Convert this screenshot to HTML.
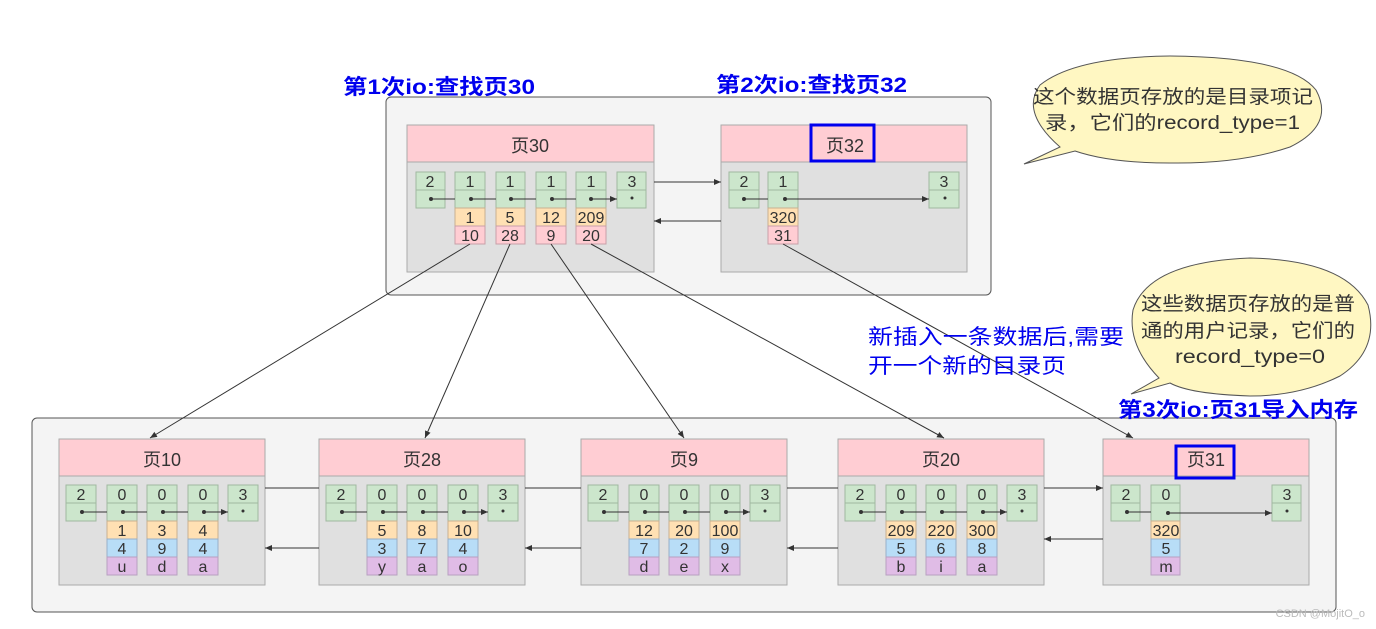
<!DOCTYPE html>
<html><head><meta charset="utf-8"><style>
html,body{margin:0;padding:0;background:#fff;}
svg{display:block;}
text{font-family:"Liberation Sans","Noto Sans CJK SC",sans-serif;}
.c{font-size:16px;fill:#333;text-anchor:middle;}
.h{font-size:18px;fill:#333;text-anchor:middle;}
.g{fill:#cce6cc;stroke:#a0b8a0;stroke-width:1;}
.o{fill:#ffe0b3;stroke:#c8b090;stroke-width:1;}
.p{fill:#ffcdd3;stroke:#c8a0a8;stroke-width:1;}
.b{fill:#b8ddf7;stroke:#98b0c8;stroke-width:1;}
.u{fill:#e0bce6;stroke:#b8a0c0;stroke-width:1;}
.bl{font-size:21px;fill:#0000ee;font-weight:bold;}
.bt{font-size:19px;fill:#333;}
.ln{stroke:#333;stroke-width:1;fill:none;}
</style></head><body>
<svg width="1376" height="629" viewBox="0 0 1376 629" xmlns="http://www.w3.org/2000/svg">
<defs><marker id="a" markerWidth="8" markerHeight="8" refX="7" refY="4" orient="auto" markerUnits="userSpaceOnUse"><path d="M0,1 L7,4 L0,7 Z" fill="#333"/></marker></defs>
<rect x="386" y="97" width="605" height="198" rx="5" fill="#f4f4f4" stroke="#555"/>
<rect x="32" y="418" width="1304" height="194" rx="5" fill="#f4f4f4" stroke="#555"/>

<!-- page 30 -->
<rect x="407" y="125" width="247" height="147" fill="#e0e0e0" stroke="#aaa"/>
<rect x="407" y="125" width="247" height="37" fill="#ffcdd3" stroke="#aaa"/>
<text class="h" x="530" y="152">页30</text>
<g>
<rect class="g" x="416" y="172" width="29" height="18"/><rect class="g" x="416" y="190" width="29" height="18"/><text class="c" x="430" y="187">2</text>
<rect class="g" x="455" y="172" width="30" height="18"/><rect class="g" x="455" y="190" width="30" height="18"/><text class="c" x="470" y="187">1</text>
<rect class="o" x="455" y="208" width="30" height="18"/><text class="c" x="470" y="223">1</text>
<rect class="p" x="455" y="226" width="30" height="18"/><text class="c" x="470" y="241">10</text>
<rect class="g" x="496" y="172" width="29" height="18"/><rect class="g" x="496" y="190" width="29" height="18"/><text class="c" x="510" y="187">1</text>
<rect class="o" x="496" y="208" width="29" height="18"/><text class="c" x="510" y="223">5</text>
<rect class="p" x="496" y="226" width="29" height="18"/><text class="c" x="510" y="241">28</text>
<rect class="g" x="536" y="172" width="30" height="18"/><rect class="g" x="536" y="190" width="30" height="18"/><text class="c" x="551" y="187">1</text>
<rect class="o" x="536" y="208" width="30" height="18"/><text class="c" x="551" y="223">12</text>
<rect class="p" x="536" y="226" width="30" height="18"/><text class="c" x="551" y="241">9</text>
<rect class="g" x="576" y="172" width="30" height="18"/><rect class="g" x="576" y="190" width="30" height="18"/><text class="c" x="591" y="187">1</text>
<rect class="o" x="576" y="208" width="30" height="18"/><text class="c" x="591" y="223">209</text>
<rect class="p" x="576" y="226" width="30" height="18"/><text class="c" x="591" y="241">20</text>
<rect class="g" x="617" y="172" width="29" height="18"/><rect class="g" x="617" y="190" width="29" height="18"/><text class="c" x="632" y="187">3</text>
<g fill="#333"><circle cx="431" cy="199" r="2"/><circle cx="471" cy="199" r="2"/><circle cx="511" cy="199" r="2"/><circle cx="552" cy="199" r="2"/><circle cx="591" cy="199" r="2"/><circle cx="632" cy="198" r="1.5"/></g>
<path class="ln" marker-end="url(#a)" d="M431,199H455M471,199H496M511,199H536M552,199H576M591,199H617"/>
</g>

<!-- page 32 -->
<rect x="721" y="125" width="246" height="147" fill="#e0e0e0" stroke="#aaa"/>
<rect x="721" y="125" width="246" height="37" fill="#ffcdd3" stroke="#aaa"/>
<text class="h" x="845" y="152">页32</text>
<rect x="811" y="125" width="63" height="36" fill="none" stroke="#0000ee" stroke-width="3"/>
<rect class="g" x="729" y="172" width="30" height="18"/><rect class="g" x="729" y="190" width="30" height="18"/><text class="c" x="744" y="187">2</text>
<rect class="g" x="768" y="172" width="30" height="18"/><rect class="g" x="768" y="190" width="30" height="18"/><text class="c" x="783" y="187">1</text>
<rect class="o" x="768" y="208" width="30" height="18"/><text class="c" x="783" y="223">320</text>
<rect class="p" x="768" y="226" width="30" height="18"/><text class="c" x="783" y="241">31</text>
<rect class="g" x="929" y="172" width="30" height="18"/><rect class="g" x="929" y="190" width="30" height="18"/><text class="c" x="944" y="187">3</text>
<g fill="#333"><circle cx="744" cy="199" r="2"/><circle cx="785" cy="199" r="2"/><circle cx="945" cy="198" r="1.5"/></g>
<path class="ln" marker-end="url(#a)" d="M744,199H768M785,199H929"/>
<path class="ln" marker-end="url(#a)" d="M654,182H721"/>
<path class="ln" marker-end="url(#a)" d="M721,221H654"/>

<!-- bottom pages -->
<rect x="59" y="439" width="206" height="146" fill="#e0e0e0" stroke="#aaa"/>
<rect x="59" y="439" width="206" height="37" fill="#ffcdd3" stroke="#aaa"/>
<text class="h" x="162" y="466">页10</text>
<rect x="319" y="439" width="206" height="146" fill="#e0e0e0" stroke="#aaa"/>
<rect x="319" y="439" width="206" height="37" fill="#ffcdd3" stroke="#aaa"/>
<text class="h" x="422" y="466">页28</text>
<rect x="581" y="439" width="206" height="146" fill="#e0e0e0" stroke="#aaa"/>
<rect x="581" y="439" width="206" height="37" fill="#ffcdd3" stroke="#aaa"/>
<text class="h" x="684" y="466">页9</text>
<rect x="838" y="439" width="206" height="146" fill="#e0e0e0" stroke="#aaa"/>
<rect x="838" y="439" width="206" height="37" fill="#ffcdd3" stroke="#aaa"/>
<text class="h" x="941" y="466">页20</text>
<rect x="1103" y="439" width="206" height="146" fill="#e0e0e0" stroke="#aaa"/>
<rect x="1103" y="439" width="206" height="37" fill="#ffcdd3" stroke="#aaa"/>
<text class="h" x="1206" y="466">页31</text>
<rect x="1176" y="446" width="58" height="32" fill="none" stroke="#0000ee" stroke-width="3"/>

<!-- page10 cells -->
<g>
<rect class="g" x="66" y="485" width="30" height="18"/><rect class="g" x="66" y="503" width="30" height="18"/><text class="c" x="81" y="500">2</text>
<rect class="g" x="107" y="485" width="30" height="18"/><rect class="g" x="107" y="503" width="30" height="18"/><text class="c" x="122" y="500">0</text>
<rect class="o" x="107" y="521" width="30" height="18"/><text class="c" x="122" y="536">1</text>
<rect class="b" x="107" y="539" width="30" height="18"/><text class="c" x="122" y="554">4</text>
<rect class="u" x="107" y="557" width="30" height="18"/><text class="c" x="122" y="572">u</text>
<rect class="g" x="147" y="485" width="30" height="18"/><rect class="g" x="147" y="503" width="30" height="18"/><text class="c" x="162" y="500">0</text>
<rect class="o" x="147" y="521" width="30" height="18"/><text class="c" x="162" y="536">3</text>
<rect class="b" x="147" y="539" width="30" height="18"/><text class="c" x="162" y="554">9</text>
<rect class="u" x="147" y="557" width="30" height="18"/><text class="c" x="162" y="572">d</text>
<rect class="g" x="188" y="485" width="30" height="18"/><rect class="g" x="188" y="503" width="30" height="18"/><text class="c" x="203" y="500">0</text>
<rect class="o" x="188" y="521" width="30" height="18"/><text class="c" x="203" y="536">4</text>
<rect class="b" x="188" y="539" width="30" height="18"/><text class="c" x="203" y="554">4</text>
<rect class="u" x="188" y="557" width="30" height="18"/><text class="c" x="203" y="572">a</text>
<rect class="g" x="228" y="485" width="30" height="18"/><rect class="g" x="228" y="503" width="30" height="18"/><text class="c" x="243" y="500">3</text>
<g fill="#333"><circle cx="82" cy="512" r="2"/><circle cx="123" cy="512" r="2"/><circle cx="163" cy="512" r="2"/><circle cx="204" cy="512" r="2"/><circle cx="243" cy="511" r="1.5"/></g>
<path class="ln" marker-end="url(#a)" d="M82,512H107M123,512H147M163,512H188M204,512H228"/>
</g>
<!-- page28 -->
<g>
<rect class="g" x="326" y="485" width="30" height="18"/><rect class="g" x="326" y="503" width="30" height="18"/><text class="c" x="341" y="500">2</text>
<rect class="g" x="367" y="485" width="30" height="18"/><rect class="g" x="367" y="503" width="30" height="18"/><text class="c" x="382" y="500">0</text>
<rect class="o" x="367" y="521" width="30" height="18"/><text class="c" x="382" y="536">5</text>
<rect class="b" x="367" y="539" width="30" height="18"/><text class="c" x="382" y="554">3</text>
<rect class="u" x="367" y="557" width="30" height="18"/><text class="c" x="382" y="572">y</text>
<rect class="g" x="407" y="485" width="30" height="18"/><rect class="g" x="407" y="503" width="30" height="18"/><text class="c" x="422" y="500">0</text>
<rect class="o" x="407" y="521" width="30" height="18"/><text class="c" x="422" y="536">8</text>
<rect class="b" x="407" y="539" width="30" height="18"/><text class="c" x="422" y="554">7</text>
<rect class="u" x="407" y="557" width="30" height="18"/><text class="c" x="422" y="572">a</text>
<rect class="g" x="448" y="485" width="30" height="18"/><rect class="g" x="448" y="503" width="30" height="18"/><text class="c" x="463" y="500">0</text>
<rect class="o" x="448" y="521" width="30" height="18"/><text class="c" x="463" y="536">10</text>
<rect class="b" x="448" y="539" width="30" height="18"/><text class="c" x="463" y="554">4</text>
<rect class="u" x="448" y="557" width="30" height="18"/><text class="c" x="463" y="572">o</text>
<rect class="g" x="488" y="485" width="30" height="18"/><rect class="g" x="488" y="503" width="30" height="18"/><text class="c" x="503" y="500">3</text>
<g fill="#333"><circle cx="342" cy="512" r="2"/><circle cx="383" cy="512" r="2"/><circle cx="423" cy="512" r="2"/><circle cx="464" cy="512" r="2"/><circle cx="503" cy="511" r="1.5"/></g>
<path class="ln" marker-end="url(#a)" d="M342,512H367M383,512H407M423,512H448M464,512H488"/>
</g>
<!-- page9 -->
<g>
<rect class="g" x="588" y="485" width="30" height="18"/><rect class="g" x="588" y="503" width="30" height="18"/><text class="c" x="603" y="500">2</text>
<rect class="g" x="629" y="485" width="30" height="18"/><rect class="g" x="629" y="503" width="30" height="18"/><text class="c" x="644" y="500">0</text>
<rect class="o" x="629" y="521" width="30" height="18"/><text class="c" x="644" y="536">12</text>
<rect class="b" x="629" y="539" width="30" height="18"/><text class="c" x="644" y="554">7</text>
<rect class="u" x="629" y="557" width="30" height="18"/><text class="c" x="644" y="572">d</text>
<rect class="g" x="669" y="485" width="30" height="18"/><rect class="g" x="669" y="503" width="30" height="18"/><text class="c" x="684" y="500">0</text>
<rect class="o" x="669" y="521" width="30" height="18"/><text class="c" x="684" y="536">20</text>
<rect class="b" x="669" y="539" width="30" height="18"/><text class="c" x="684" y="554">2</text>
<rect class="u" x="669" y="557" width="30" height="18"/><text class="c" x="684" y="572">e</text>
<rect class="g" x="710" y="485" width="30" height="18"/><rect class="g" x="710" y="503" width="30" height="18"/><text class="c" x="725" y="500">0</text>
<rect class="o" x="710" y="521" width="30" height="18"/><text class="c" x="725" y="536">100</text>
<rect class="b" x="710" y="539" width="30" height="18"/><text class="c" x="725" y="554">9</text>
<rect class="u" x="710" y="557" width="30" height="18"/><text class="c" x="725" y="572">x</text>
<rect class="g" x="750" y="485" width="30" height="18"/><rect class="g" x="750" y="503" width="30" height="18"/><text class="c" x="765" y="500">3</text>
<g fill="#333"><circle cx="604" cy="512" r="2"/><circle cx="645" cy="512" r="2"/><circle cx="685" cy="512" r="2"/><circle cx="726" cy="512" r="2"/><circle cx="765" cy="511" r="1.5"/></g>
<path class="ln" marker-end="url(#a)" d="M604,512H629M645,512H669M685,512H710M726,512H750"/>
</g>
<!-- page20 -->
<g>
<rect class="g" x="845" y="485" width="30" height="18"/><rect class="g" x="845" y="503" width="30" height="18"/><text class="c" x="860" y="500">2</text>
<rect class="g" x="886" y="485" width="30" height="18"/><rect class="g" x="886" y="503" width="30" height="18"/><text class="c" x="901" y="500">0</text>
<rect class="o" x="886" y="521" width="30" height="18"/><text class="c" x="901" y="536">209</text>
<rect class="b" x="886" y="539" width="30" height="18"/><text class="c" x="901" y="554">5</text>
<rect class="u" x="886" y="557" width="30" height="18"/><text class="c" x="901" y="572">b</text>
<rect class="g" x="926" y="485" width="30" height="18"/><rect class="g" x="926" y="503" width="30" height="18"/><text class="c" x="941" y="500">0</text>
<rect class="o" x="926" y="521" width="30" height="18"/><text class="c" x="941" y="536">220</text>
<rect class="b" x="926" y="539" width="30" height="18"/><text class="c" x="941" y="554">6</text>
<rect class="u" x="926" y="557" width="30" height="18"/><text class="c" x="941" y="572">i</text>
<rect class="g" x="967" y="485" width="30" height="18"/><rect class="g" x="967" y="503" width="30" height="18"/><text class="c" x="982" y="500">0</text>
<rect class="o" x="967" y="521" width="30" height="18"/><text class="c" x="982" y="536">300</text>
<rect class="b" x="967" y="539" width="30" height="18"/><text class="c" x="982" y="554">8</text>
<rect class="u" x="967" y="557" width="30" height="18"/><text class="c" x="982" y="572">a</text>
<rect class="g" x="1007" y="485" width="30" height="18"/><rect class="g" x="1007" y="503" width="30" height="18"/><text class="c" x="1022" y="500">3</text>
<g fill="#333"><circle cx="861" cy="512" r="2"/><circle cx="902" cy="512" r="2"/><circle cx="942" cy="512" r="2"/><circle cx="983" cy="512" r="2"/><circle cx="1022" cy="511" r="1.5"/></g>
<path class="ln" marker-end="url(#a)" d="M861,512H886M902,512H926M942,512H967M983,512H1007"/>
</g>
<!-- page31 -->
<g>
<rect class="g" x="1111" y="485" width="29" height="18"/><rect class="g" x="1111" y="503" width="29" height="18"/><text class="c" x="1126" y="500">2</text>
<rect class="g" x="1151" y="485" width="29" height="18"/><rect class="g" x="1151" y="503" width="29" height="18"/><text class="c" x="1166" y="500">0</text>
<rect class="o" x="1151" y="521" width="29" height="18"/><text class="c" x="1166" y="536">320</text>
<rect class="b" x="1151" y="539" width="29" height="18"/><text class="c" x="1166" y="554">5</text>
<rect class="u" x="1151" y="557" width="29" height="18"/><text class="c" x="1166" y="572">m</text>
<rect class="g" x="1272" y="485" width="29" height="18"/><rect class="g" x="1272" y="503" width="29" height="18"/><text class="c" x="1287" y="500">3</text>
<g fill="#333"><circle cx="1127" cy="512" r="2"/><circle cx="1168" cy="513" r="2"/><circle cx="1287" cy="511" r="1.5"/></g>
<path class="ln" marker-end="url(#a)" d="M1127,512H1151M1168,513H1272"/>
</g>

<path class="ln" marker-end="url(#a)" d="M265,488H319M525,488H581M787,488H838M1044,488H1103"/>
<path class="ln" marker-end="url(#a)" d="M319,548H265"/>
<path class="ln" marker-end="url(#a)" d="M581,548H525"/>
<path class="ln" marker-end="url(#a)" d="M838,548H787"/>
<path class="ln" marker-end="url(#a)" d="M1103,539H1044"/>

<path class="ln" marker-end="url(#a)" d="M470,244L150,438"/>
<path class="ln" marker-end="url(#a)" d="M510,244L425,438"/>
<path class="ln" marker-end="url(#a)" d="M551,244L684,438"/>
<path class="ln" marker-end="url(#a)" d="M591,244L944,438"/>
<path class="ln" marker-end="url(#a)" d="M783,244L1133,438"/>

<text class="bl" x="343" y="94" textLength="192" lengthAdjust="spacingAndGlyphs">第1次io:查找页30</text>
<text class="bl" x="716" y="92" textLength="191" lengthAdjust="spacingAndGlyphs">第2次io:查找页32</text>
<text class="bl" x="868" y="344" style="font-weight:normal" textLength="256" lengthAdjust="spacingAndGlyphs">新插入一条数据后,需要</text>
<text class="bl" x="868" y="373" style="font-weight:normal" textLength="198" lengthAdjust="spacingAndGlyphs">开一个新的目录页</text>
<text class="bl" x="1118" y="417" textLength="240" lengthAdjust="spacingAndGlyphs">第3次io:页31导入内存</text>

<path d="M1060,147 Q1020,112 1040,85 Q1075,57 1170,56 Q1290,57 1316,90 Q1335,125 1290,147 Q1240,164 1170,163 Q1110,163 1075,151 L1024,164 Z" fill="#fff7c2" stroke="#555"/>
<text class="bt" x="1033" y="103" textLength="280" lengthAdjust="spacingAndGlyphs">这个数据页存放的是目录项记</text>
<text class="bt" x="1045" y="129" textLength="255" lengthAdjust="spacingAndGlyphs">录，它们的record_type=1</text>
<path d="M1159,378 Q1127,345 1133,310 Q1148,262 1250,258 Q1345,260 1368,305 Q1380,350 1340,376 Q1300,396 1250,396 Q1190,394 1170,383 L1131,394 Z" fill="#fff7c2" stroke="#555"/>
<text class="bt" x="1141" y="310" textLength="214" lengthAdjust="spacingAndGlyphs">这些数据页存放的是普</text>
<text class="bt" x="1141" y="337" textLength="214" lengthAdjust="spacingAndGlyphs">通的用户记录，它们的</text>
<text class="bt" x="1175" y="363" textLength="150" lengthAdjust="spacingAndGlyphs">record_type=0</text>

<text x="1365" y="617" style="font-size:11px;fill:#bbb;text-anchor:end">CSDN @MojitO_o</text>
</svg>
</body></html>
